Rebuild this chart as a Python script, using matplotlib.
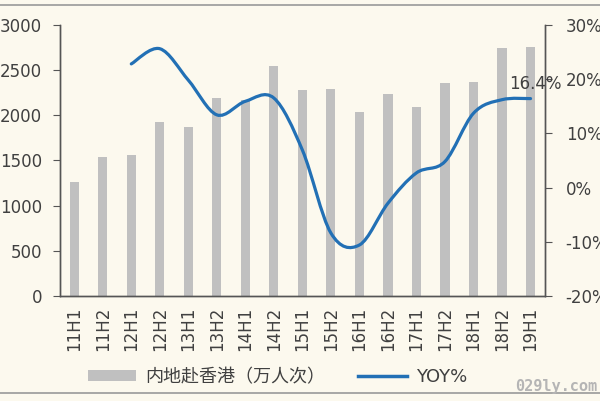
import numpy as np
import matplotlib
matplotlib.use('Agg')
import matplotlib.pyplot as plt
from matplotlib.path import Path
from matplotlib.patches import PathPatch, Patch
from matplotlib.lines import Line2D

plt.rcParams['font.family'] = ['DejaVu Sans', 'Noto Sans CJK SC']

# 数据
periodos = ['11H1', '11H2', '12H1', '12H2', '13H1', '13H2', '14H1', '14H2', '15H1',
            '15H2', '16H1', '16H2', '17H1', '17H2', '18H1', '18H2', '19H1']
visitantes = [1262, 1539, 1561, 1927, 1871, 2193, 2170, 2547, 2281,
              2292, 2037, 2237, 2093, 2359, 2370, 2746, 2757]
# YOY começa em 12H1
yoy = [22.8, 25.6, 19.8, 13.4, 15.9, 16.5, 6.9, -8.4, -10.6,
       -2.9, 2.7, 4.8, 13.7, 16.2, 16.4]
yoy_inicio = 2

fundo = '#fcf9ee'
cinza = '#c0c0c0'
azul = '#2270b5'
texto = '#404040'

fig = plt.figure(figsize=(6, 4.01), dpi=100, facecolor=fundo)
ax = fig.add_axes([0.1, 0.262, 0.808, 0.676], facecolor=fundo)
ax2 = ax.twinx()

x = np.arange(len(periodos))
ax.bar(x, visitantes, width=0.32, color=cinza, zorder=2)
ax.set_xlim(-0.5, len(periodos) - 0.5)
ax.set_ylim(0, 3000)
ax.set_yticks(range(0, 3001, 500))
ax.set_xticks(x)
ax.set_xticklabels(periodos, rotation=90)

# Linha suavizada (bezier)
xs = x[yoy_inicio:yoy_inicio + len(yoy)].astype(float)
ys = np.array(yoy, dtype=float)
pts = np.column_stack([xs, ys])
verts = [pts[0]]
codes = [Path.MOVETO]
n = len(pts)
for i in range(n - 1):
    p0 = pts[i - 1] if i > 0 else pts[i]
    p1 = pts[i]
    p2 = pts[i + 1]
    p3 = pts[i + 2] if i + 2 < n else pts[i + 1]
    c1 = p1 + (p2 - p0) / 6.0
    c2 = p2 - (p3 - p1) / 6.0
    verts += [c1, c2, p2]
    codes += [Path.CURVE4] * 3
ax2.add_patch(PathPatch(Path(verts, codes), fill=False, edgecolor=azul,
                        linewidth=2.3, zorder=3, capstyle='round'))
ax2.set_ylim(-20, 30)
ax2.set_yticks(range(-20, 31, 10))
ax2.set_yticklabels([f'{v}%' for v in range(-20, 31, 10)])
ax2.text(xs[-1] - 0.75, ys[-1] + 1.0, f'{yoy[-1]}%', fontsize=12,
         color=texto, ha='left', va='bottom')

for a in (ax, ax2):
    a.spines['top'].set_visible(False)
    for s in a.spines.values():
        s.set_color('#555555')
        s.set_linewidth(1.0)
    a.tick_params(colors='#555555', labelcolor=texto, labelsize=12,
                  length=5, direction='out')
ax.tick_params(axis='x', length=0, pad=8)
ax.tick_params(axis='y', pad=8)
ax2.tick_params(axis='y', pad=10)

# Legenda
handles = [Patch(facecolor=cinza, edgecolor='none'),
           Line2D([0], [0], color=azul, linewidth=2.5)]
fig.legend(handles, ['内地赴香港（万人次）', 'YOY%'], loc='center',
           bbox_to_anchor=(0.462, 0.06), ncol=2, frameon=False,
           fontsize=13, handlelength=2.7, handleheight=0.55,
           columnspacing=1.8, handletextpad=0.5, labelcolor=texto)

# Bordas
fig.add_artist(Line2D([0, 1], [0.9875, 0.9875], transform=fig.transFigure,
                      color='#999999', linewidth=1.2))
fig.add_artist(Line2D([0, 1], [0.02, 0.02], transform=fig.transFigure,
                      color='#999999', linewidth=1.2))
fig.text(0.995, 0.035, '029ly.com', ha='right', va='center', fontsize=11,
         fontweight='bold', family='DejaVu Sans Mono', color='#b5b5b5')

fig.savefig('out.png', dpi=100, facecolor=fundo)
